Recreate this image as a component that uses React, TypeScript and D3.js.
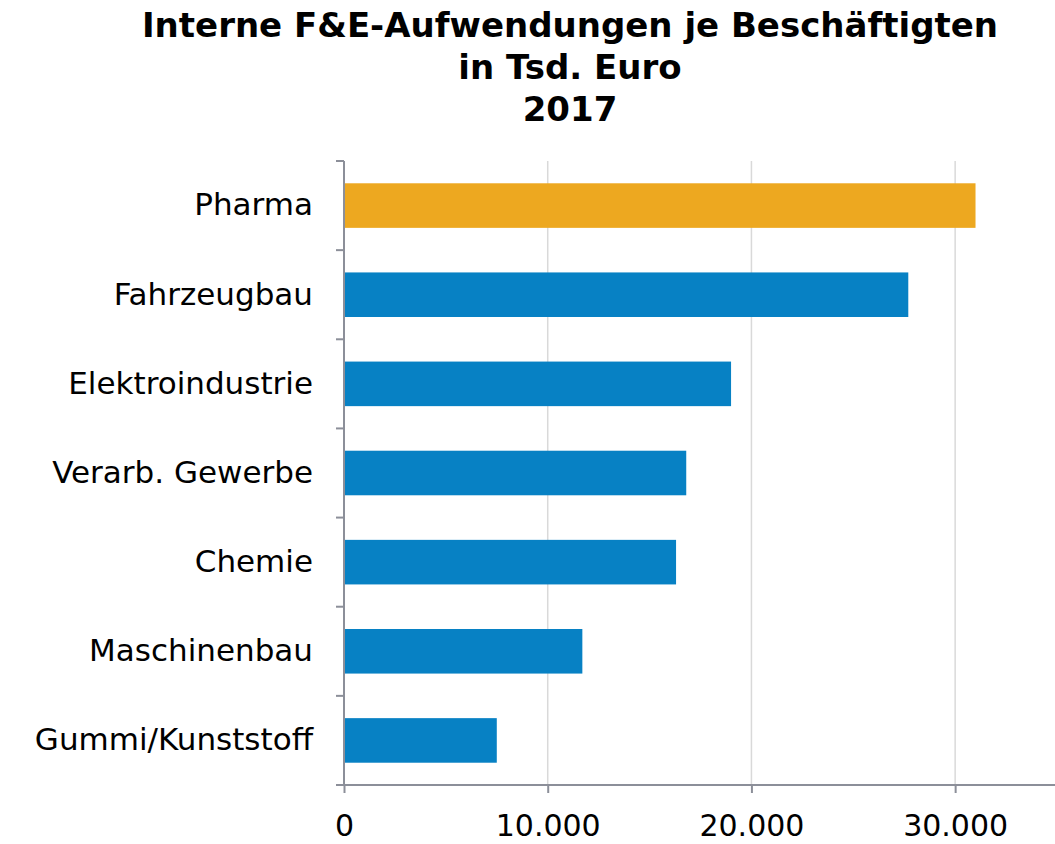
import * as d3 from 'd3'
import { useEffect, useRef } from 'react'

const categories = [
  'Pharma',
  'Fahrzeugbau',
  'Elektroindustrie',
  'Verarb. Gewerbe',
  'Chemie',
  'Maschinenbau',
  'Gummi/Kunststoff'
]
const values = [31000, 27700, 19000, 16800, 16300, 11700, 7500]
const highlight = ['Pharma']
const xTicks = [0, 10000, 20000, 30000]
const titleLines = ['Interne F&E-Aufwendungen je Beschäftigten', 'in Tsd. Euro', '2017']

const W = 1055
const H = 844

export default function App() {
  const ref = useRef<SVGSVGElement>(null)

  useEffect(() => {
    const svg = d3.select(ref.current)
    svg.selectAll('*').remove()

    const margin = { top: 161, right: 0, bottom: 59, left: 344 }
    const font = '"DejaVu Sans", Verdana, sans-serif'

    const x = d3.scaleLinear().domain([0, 35000]).range([margin.left, margin.left + 713])
    const y = d3
      .scaleBand()
      .domain(categories)
      .range([margin.top, H - margin.bottom])
      .paddingInner(0.5)
      .paddingOuter(0.25)

    // title
    svg
      .append('text')
      .attr('x', 570)
      .attr('text-anchor', 'middle')
      .attr('font-family', font)
      .attr('font-weight', 'bold')
      .attr('font-size', 34)
      .selectAll('tspan')
      .data(titleLines)
      .enter()
      .append('tspan')
      .attr('x', 570)
      .attr('y', (d, i) => 37 + i * 42)
      .text((d) => d)

    // gridlines
    svg
      .append('g')
      .selectAll('line')
      .data(xTicks.slice(1))
      .enter()
      .append('line')
      .attr('x1', (d) => x(d))
      .attr('x2', (d) => x(d))
      .attr('y1', margin.top)
      .attr('y2', H - margin.bottom)
      .attr('stroke', '#d9d9d9')
      .attr('stroke-width', 1.5)

    // bars
    svg
      .append('g')
      .selectAll('rect')
      .data(categories)
      .enter()
      .append('rect')
      .attr('x', x(0))
      .attr('y', (d) => y(d)!)
      .attr('width', (d, i) => x(values[i]) - x(0))
      .attr('height', y.bandwidth())
      .attr('fill', (d) => (highlight.includes(d) ? '#eda820' : '#0781c4'))

    const axisColor = '#8c8f99'

    // y axis
    const yAxis = svg
      .append('g')
      .attr('transform', `translate(${margin.left},0)`)
      .call(
        d3
          .axisLeft(y)
          .tickSize(0)
          .tickPadding(31)
      )
    yAxis.select('.domain').remove()
    yAxis
      .selectAll('text')
      .attr('font-family', font)
      .attr('font-size', 31)
      .attr('fill', '#000')
    // category boundaries
    const step = y.step()
    const bounds = d3.range(categories.length + 1).map((i) => y.range()[0] + i * step)
    yAxis
      .selectAll('line.bound')
      .data(bounds)
      .enter()
      .append('line')
      .attr('class', 'bound')
      .attr('x1', -8)
      .attr('x2', 0)
      .attr('y1', (d) => d)
      .attr('y2', (d) => d)
      .attr('stroke', axisColor)
      .attr('stroke-width', 2)
    yAxis
      .append('line')
      .attr('x1', 0)
      .attr('x2', 0)
      .attr('y1', margin.top)
      .attr('y2', H - margin.bottom)
      .attr('stroke', axisColor)
      .attr('stroke-width', 2)

    // x axis
    const xAxis = svg
      .append('g')
      .attr('transform', `translate(0,${H - margin.bottom})`)
      .call(
        d3
          .axisBottom(x)
          .tickValues(xTicks)
          .tickSize(8)
          .tickPadding(22)
          .tickFormat((d) => d3.format(',')(d as number).replace(/,/g, '.'))
      )
    xAxis.select('.domain').attr('stroke', axisColor).attr('stroke-width', 2).attr('d', `M${margin.left - 8},0H${W}`)
    xAxis.selectAll('line').attr('stroke', axisColor).attr('stroke-width', 2)
    xAxis
      .selectAll('text')
      .attr('font-family', font)
      .attr('font-size', 30)
      .attr('fill', '#000')
  }, [])

  return (
    <svg
      ref={ref}
      width={W}
      height={H}
      style={{ position: 'absolute', left: 0, top: 0, background: '#fff' }}
    />
  )
}
